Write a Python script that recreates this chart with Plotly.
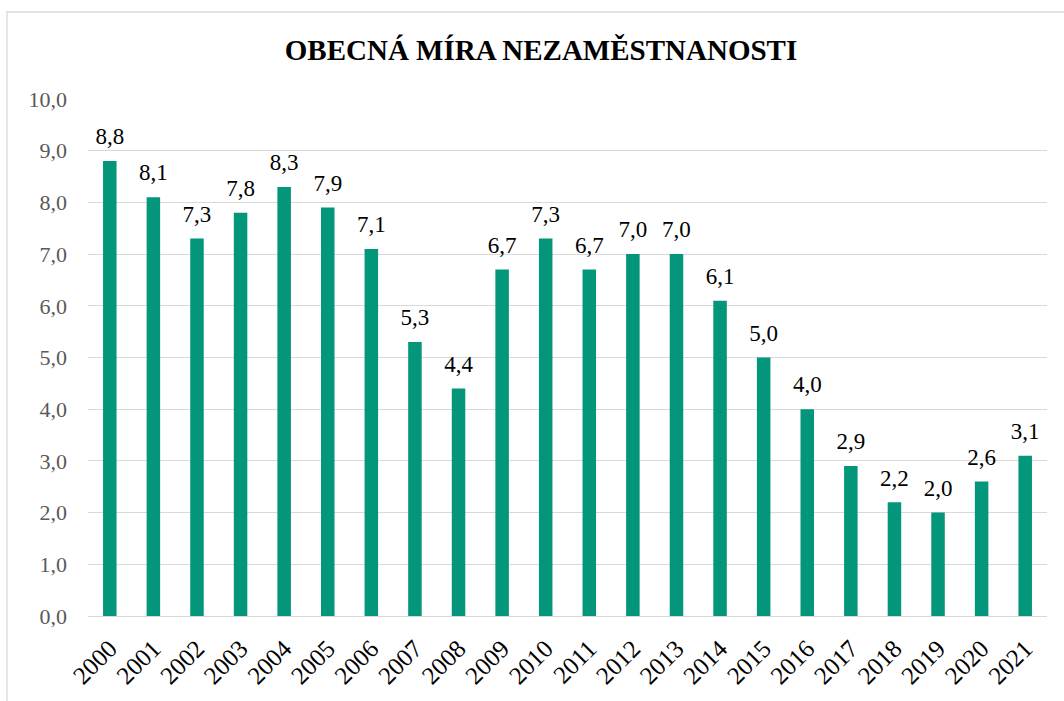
import plotly.graph_objects as go

years = [str(y) for y in range(2000, 2022)]
rates = [8.8, 8.1, 7.3, 7.8, 8.3, 7.9, 7.1, 5.3, 4.4, 6.7, 7.3, 6.7, 7.0, 7.0, 6.1, 5.0, 4.0, 2.9, 2.2, 2.0, 2.6, 3.1]
y_ticks = [0, 1, 2, 3, 4, 5, 6, 7, 8, 9, 10]

FONT = "Liberation Serif, Times New Roman, serif"
GREEN = "#03967A"

fig = go.Figure()
fig.add_trace(go.Bar(
    x=years, y=rates,
    marker=dict(color=GREEN, line=dict(width=0)),
    width=0.31,
    hoverinfo="x+y",
))
fig.add_trace(go.Scatter(
    x=years, y=rates,
    mode="markers+text",
    marker=dict(size=16, color="rgba(0,0,0,0)"),
    texttemplate="%{y:.1f}",
    textposition="top center",
    cliponaxis=False,
    hoverinfo="skip",
    textfont=dict(family=FONT, size=23, color="#000000"),
))

W, H = 1064, 701
L, R, T, B = 88, 17, 99, 85
pw, ph = W - L - R, H - T - B

def px_x(x):
    return (x - L) / pw

def px_y(y):
    return (H - B - y) / ph

fig.update_layout(
    width=W, height=H,
    margin=dict(l=L, r=R, t=T, b=B, autoexpand=False),
    paper_bgcolor="white", plot_bgcolor="white",
    separators=", ",
    showlegend=False,
    bargap=0.69,
    title=dict(text="<b>OBECNÁ MÍRA NEZAMĚSTNANOSTI</b>", x=541 / W, xref="container", xanchor="center",
               y=1 - 50 / H, yref="container", yanchor="middle",
               font=dict(family=FONT, size=29, color="#000000")),
    xaxis=dict(type="category", range=[-0.5, len(years) - 0.5], tickangle=-45, showgrid=False,
               showline=False, ticks="", automargin=False, ticklabelstandoff=12,
               tickfont=dict(family=FONT, size=25, color="#000000")),
    yaxis=dict(range=[0, 10], tickvals=y_ticks, tickformat=".1f", showgrid=True, gridcolor="#d9d9d9",
               gridwidth=1.3, zeroline=True, zerolinecolor="#d9d9d9", zerolinewidth=1.3, showline=False,
               ticks="", ticklabelstandoff=20, automargin=False,
               tickfont=dict(family=FONT, size=22, color="#595959")),
    shapes=[dict(type="rect", xref="paper", yref="paper",
                 x0=px_x(7), x1=px_x(1075), y0=px_y(715), y1=px_y(12),
                 line=dict(color="#d9d9d9", width=1.3), fillcolor="rgba(0,0,0,0)", layer="below")],
)

fig.write_html("out.html", config={"displayModeBar": False},
               post_script="document.body.style.margin='0';document.body.style.padding='0';")
